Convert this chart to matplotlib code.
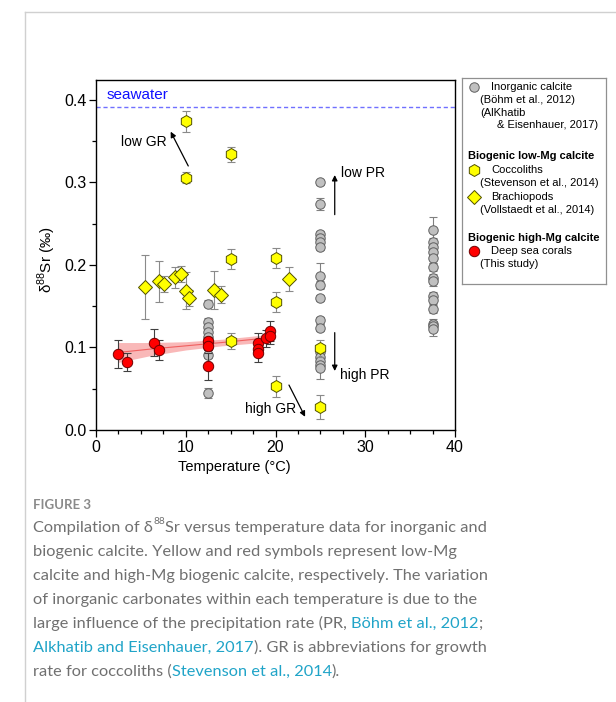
import numpy as np
import matplotlib
matplotlib.use("Agg")
import matplotlib.pyplot as plt

plt.rcParams['font.family'] = ['Liberation Sans', 'DejaVu Sans']
plt.rcParams['mathtext.fontset'] = 'custom'
plt.rcParams['mathtext.rm'] = 'Liberation Sans'

# ---------------- data ----------------
seawater = 0.392

inorg_T = [12.5, 12.5, 12.5, 12.5, 12.5, 12.5, 12.5, 12.5, 12.5,
           25, 25, 25, 25, 25, 25, 25, 25, 25, 25, 25, 25, 25, 25, 25, 25,
           37.5, 37.5, 37.5, 37.5, 37.5, 37.5, 37.5, 37.5, 37.5, 37.5, 37.5, 37.5, 37.5, 37.5]
inorg_d88 = [0.153, 0.131, 0.125, 0.119, 0.113, 0.107, 0.101, 0.091, 0.045,
             0.300, 0.274, 0.237, 0.233, 0.228, 0.222, 0.187, 0.176, 0.160, 0.133, 0.124,
             0.094, 0.089, 0.084, 0.079, 0.075,
             0.243, 0.228, 0.222, 0.216, 0.208, 0.198, 0.184, 0.180, 0.162, 0.158, 0.147,
             0.129, 0.126, 0.123]
inorg_err = [0.004, 0.005, 0.004, 0.004, 0.004, 0.004, 0.004, 0.004, 0.006,
             0.003, 0.007, 0.004, 0.004, 0.004, 0.004, 0.016, 0.004, 0.004, 0.004, 0.004,
             0.004, 0.005, 0.005, 0.006, 0.013,
             0.015, 0.005, 0.005, 0.005, 0.005, 0.005, 0.005, 0.005, 0.005, 0.005, 0.005,
             0.005, 0.005, 0.009]

cocco_T = [10, 10, 15, 15, 15, 20, 20, 20, 25, 25]
cocco_d88 = [0.374, 0.306, 0.334, 0.207, 0.108, 0.208, 0.155, 0.053, 0.099, 0.028]
cocco_err = [0.013, 0.007, 0.009, 0.012, 0.010, 0.012, 0.012, 0.013, 0.010, 0.015]

brach_T = [5.5, 7.0, 7.6, 8.8, 9.5, 10.0, 10.4, 13.2, 13.9, 21.5]
brach_d88 = [0.173, 0.180, 0.177, 0.185, 0.189, 0.169, 0.160, 0.170, 0.164, 0.183]
brach_err = [0.039, 0.025, 0.010, 0.013, 0.010, 0.022, 0.010, 0.023, 0.010, 0.015]

coral_T = [2.5, 3.5, 6.5, 7.0, 12.5, 12.5, 12.5, 18.0, 18.0, 18.0, 18.9, 19.4, 19.4]
coral_d88 = [0.092, 0.082, 0.106, 0.097, 0.108, 0.102, 0.077, 0.106, 0.098, 0.093, 0.111, 0.120, 0.114]
coral_err = [0.017, 0.011, 0.016, 0.012, 0.005, 0.005, 0.016, 0.012, 0.008, 0.010, 0.010, 0.012, 0.010]

# regression line and its band
fit_T = [2.5, 6.0, 10.0, 14.0, 19.5]
fit_mid = [0.094, 0.098, 0.102, 0.106, 0.112]
fit_lo = [0.082, 0.090, 0.097, 0.102, 0.107]
fit_hi = [0.106, 0.106, 0.107, 0.110, 0.116]

x_ticks = [0, 10, 20, 30, 40]
y_ticks = [0.0, 0.1, 0.2, 0.3, 0.4]

# ---------------- figure ----------------
W, H = 616, 702
fig = plt.figure(figsize=(W / 100, H / 100), dpi=100)

def fx(px):
    return px / W

def fy(py):
    return 1 - py / H

# page frame lines
fig.add_artist(plt.Line2D([fx(25), fx(25)], [0, fy(12)], color='#d0d0d0', lw=1))
fig.add_artist(plt.Line2D([fx(25), 1], [fy(12), fy(12)], color='#d0d0d0', lw=1))

ax = fig.add_axes([fx(96), fy(430), fx(455) - fx(96), fy(80) - fy(430)])
ax.set_xlim(0, 40)
ax.set_ylim(0, 0.4242)

# seawater
ax.axhline(seawater, color='#7070ff', lw=1, ls=(0, (3, 2)))
ax.text(1.2, 0.406, 'seawater', color='#1010ff', fontsize=11, va='center', ha='left')

# regression band
ax.fill_between(fit_T, fit_lo, fit_hi, color='#f8a0a0', alpha=0.75, lw=0, zorder=2)
ax.plot(fit_T, fit_mid, color='#f06060', lw=0.8, zorder=2.1)

ms_grey, ms_red, ms_hex, ms_dia = 6.8, 7.5, 8.6, 6.8

# inorganic
ax.errorbar(inorg_T, inorg_d88, yerr=inorg_err, fmt='none', ecolor='#808080',
            elinewidth=0.8, capsize=3, capthick=0.8, zorder=3)
ax.plot(inorg_T, inorg_d88, 'o', ms=ms_grey, mfc='#c0c0c0', mec='#606060', mew=0.7,
        ls='none', zorder=4)

# brachiopods
ax.errorbar(brach_T, brach_d88, yerr=brach_err, fmt='none', ecolor='#8a8a8a',
            elinewidth=0.8, capsize=3, capthick=0.8, zorder=5)
ax.plot(brach_T, brach_d88, 'D', ms=ms_dia, mfc='#ffff00', mec='#505000', mew=0.7,
        ls='none', zorder=6)

# coccoliths
ax.errorbar(cocco_T, cocco_d88, yerr=cocco_err, fmt='none', ecolor='#8a8a8a',
            elinewidth=0.8, capsize=3, capthick=0.8, zorder=5)
ax.plot(cocco_T, cocco_d88, 'h', ms=ms_hex, mfc='#ffff00', mec='#505000', mew=0.7,
        ls='none', zorder=6)

# corals
ax.errorbar(coral_T, coral_d88, yerr=coral_err, fmt='none', ecolor='#404040',
            elinewidth=0.8, capsize=3, capthick=0.8, zorder=7)
ax.plot(coral_T, coral_d88, 'o', ms=ms_red, mfc='#ff0000', mec='#700000', mew=0.7,
        ls='none', zorder=8)

# annotations
arw = dict(arrowstyle='-|>', color='black', lw=0.9, mutation_scale=8, shrinkA=0, shrinkB=0)
ax.annotate('', xy=(8.32, 0.3616), xytext=(10.28, 0.320), arrowprops=arw)
ax.text(2.8, 0.349, 'low GR', fontsize=10, va='center', ha='left')
ax.annotate('', xy=(26.6, 0.309), xytext=(26.6, 0.261), arrowprops=arw)
ax.text(27.3, 0.311, 'low PR', fontsize=10, va='center', ha='left')
ax.annotate('', xy=(26.6, 0.0715), xytext=(26.6, 0.118), arrowprops=arw)
ax.text(27.2, 0.0667, 'high PR', fontsize=10, va='center', ha='left')
ax.annotate('', xy=(23.3, 0.016), xytext=(21.5, 0.0545), arrowprops=arw)
ax.text(16.6, 0.025, 'high GR', fontsize=10, va='center', ha='left')

# axes style
ax.set_xticks(x_ticks)
ax.set_xticks(np.arange(0, 40.1, 2.5), minor=True)
ax.set_yticks(y_ticks)
ax.set_yticks(np.arange(0, 0.42, 0.05), minor=True)
ax.set_yticklabels(['%.1f' % v for v in y_ticks])
ax.tick_params(which='major', direction='out', length=5, width=0.9, labelsize=11.5,
               top=False, right=False, pad=2)
ax.tick_params(which='minor', direction='out', length=3, width=0.9, top=False, right=False)
for s in ax.spines.values():
    s.set_linewidth(1.0)

fig.text(fx(234), fy(467), 'Temperature (°C)', fontsize=10.5, ha='center', va='center')
fig.text(fx(47), fy(260), r'δ$^{88}$Sr (‰)', fontsize=11, rotation=90, ha='center', va='center')

# ---------------- legend ----------------
lx0, ly0, lx1, ly1 = 462, 78, 606, 284
lax = fig.add_axes([fx(lx0), fy(ly1), fx(lx1) - fx(lx0), fy(ly0) - fy(ly1)])
lax.set_xlim(0, lx1 - lx0)
lax.set_ylim(ly1 - ly0, 0)
lax.set_xticks([])
lax.set_yticks([])
for s in lax.spines.values():
    s.set_color('#909090')
    s.set_linewidth(0.9)

lfs = 8
lax.plot([12], [9.3], 'o', ms=ms_grey, mfc='#c0c0c0', mec='#606060', mew=0.7)
lax.text(29, 9.3, 'Inorganic calcite', fontsize=lfs, va='center')
lax.text(18, 22, '(Böhm et al., 2012)', fontsize=lfs, va='center')
lax.text(18, 34.7, '(AlKhatib', fontsize=lfs, va='center')
lax.text(34.7, 47, '& Eisenhauer, 2017)', fontsize=lfs, va='center')
lax.text(5.7, 78, 'Biogenic low-Mg calcite', fontsize=lfs, fontweight='bold', va='center')
lax.plot([12], [92], 'h', ms=ms_hex, mfc='#ffff00', mec='#505000', mew=0.7)
lax.text(29, 92, 'Coccoliths', fontsize=lfs, va='center')
lax.text(18, 105.3, '(Stevenson et al., 2014)', fontsize=lfs, va='center')
lax.plot([12], [119], 'D', ms=ms_dia, mfc='#ffff00', mec='#505000', mew=0.7)
lax.text(29, 119, 'Brachiopods', fontsize=lfs, va='center')
lax.text(18, 132, '(Vollstaedt et al., 2014)', fontsize=lfs, va='center')
lax.text(5.7, 160.3, 'Biogenic high-Mg calcite', fontsize=lfs, fontweight='bold', va='center')
lax.plot([12], [173], 'o', ms=ms_red, mfc='#ff0000', mec='#700000', mew=0.7)
lax.text(29, 173, 'Deep sea corals', fontsize=lfs, va='center')
lax.text(18, 186.3, '(This study)', fontsize=lfs, va='center')

# ---------------- caption ----------------
cap = fig.add_axes([0, 0, 1, 1])
cap.axis('off')
cap.set_zorder(-1)
cfam = ['Lato', 'DejaVu Sans']
cgrey = '#707070'
clink = '#20a4c8'
cfs = 11.8

cap.text(fx(33), fy(509), 'FIGURE 3', fontsize=9.5, fontweight='bold', color='#8a8a8a',
         family=cfam, va='baseline', ha='left', transform=fig.transFigure)

def rich_line(py, segs):
    prev = None
    for seg in segs:
        txt, col = seg[0], seg[1]
        sup = len(seg) > 2
        fs = cfs * 0.62 if sup else cfs
        if prev is None:
            t = cap.text(fx(33), fy(py), txt, fontsize=fs, color=col, family=cfam,
                         va='baseline', ha='left', transform=fig.transFigure)
        else:
            t = cap.annotate(txt, xy=(1, fy(py)), xycoords=(prev, 'figure fraction'),
                             xytext=(0.3 if sup else 0, 6 if sup else 0),
                             textcoords='offset points', fontsize=fs, color=col,
                             family=cfam, va='baseline', ha='left')
        prev = t

baselines = [532, 556, 580, 604, 628, 652, 676]
rich_line(baselines[0], [('Compilation of δ', cgrey), ('88', cgrey, 'sup'),
                         ('Sr versus temperature data for inorganic and', cgrey)])
rich_line(baselines[1], [('biogenic calcite. Yellow and red symbols represent low-Mg', cgrey)])
rich_line(baselines[2], [('calcite and high-Mg biogenic calcite, respectively. The variation', cgrey)])
rich_line(baselines[3], [('of inorganic carbonates within each temperature is due to the', cgrey)])
rich_line(baselines[4], [('large influence of the precipitation rate (PR, ', cgrey),
                         ('Böhm et al., 2012', clink), (';', cgrey)])
rich_line(baselines[5], [('Alkhatib and Eisenhauer, 2017', clink),
                         ('). GR is abbreviations for growth', cgrey)])
rich_line(baselines[6], [('rate for coccoliths (', cgrey), ('Stevenson et al., 2014', clink),
                         (').', cgrey)])

fig.savefig('out.png', dpi=100)
